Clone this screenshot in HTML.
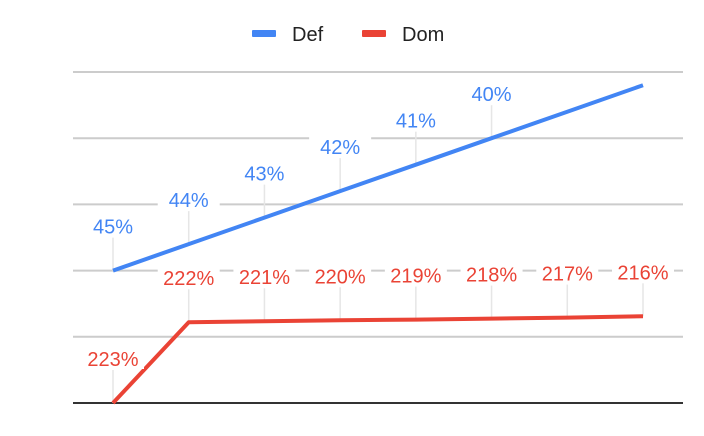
<!DOCTYPE html>
<html><head><meta charset="utf-8"><style>
html,body{margin:0;padding:0;background:#fff;}
svg{display:block;font-family:"Liberation Sans",Arial,sans-serif;}
</style></head><body>
<svg id="chart" width="704" height="436" viewBox="0 0 704 436">
<g id="legend">
<g><rect x="252" y="30" width="24" height="7" rx="1" fill="#4285f4"/><text x="292" y="41" font-size="20" fill="#222">Def</text></g>
<g><rect x="362" y="30" width="24" height="7" rx="1" fill="#ea4335"/><text x="402" y="41" font-size="20" fill="#222">Dom</text></g>
</g>
<g id="grid"></g>
<g id="leaders"></g>
<g id="series"></g>
<g id="labels"></g>
</svg>
<script>
const categories = [1,2,3,4,5,6,7,8];
const defValues = [2.0,2.4,2.8,3.2,3.6,4.0,4.4,4.8];
const domValues = [0,1.22,1.235,1.25,1.26,1.275,1.29,1.31];
const defLabels = ["45%","44%","43%","42%","41%","40%",null,null];
const domLabels = ["223%","222%","221%","220%","219%","218%","217%","216%"];
const gridTicks = [0,1,2,3,4,5];

const NS="http://www.w3.org/2000/svg";
const x0=113, x1=643, yBase=403, yStep=66.2;
function xs(i){return x0+(x1-x0)*i/(categories.length-1);}
function ys(v){return yBase-v*yStep;}
function mk(t,a,p){const e=document.createElementNS(NS,t);for(const k in a)e.setAttribute(k,a[k]);p.appendChild(e);return e;}
const grid=document.getElementById('grid'),lead=document.getElementById('leaders'),ser=document.getElementById('series'),lab=document.getElementById('labels');
gridTicks.forEach(t=>{
  const l=mk('line',{x1:73,x2:683,y1:ys(t),y2:ys(t),stroke:t===0?'#333':'#ccc','stroke-width':2},grid);
  
  
});
function series(vals,labels,color,name){
  labels.forEach((s,i)=>{
    if(!s)return;
    const y=ys(vals[i]);
    const ld=mk('line',{x1:xs(i),x2:xs(i),y1:y,y2:y-33,stroke:'#e6e6e6','stroke-width':1.5},lead);
    
    
    const bg=mk('rect',{x:xs(i)-31,y:y-56,width:62,height:22,fill:'#fff'},lab);
    
    
    const tx=mk('text',{x:xs(i),y:y-37,'text-anchor':'middle','font-size':20,fill:color},lab);
    tx.textContent=s;
    
    
  });
  const p=mk('polyline',{points:vals.map((v,i)=>xs(i)+','+ys(v)).join(' '),fill:'none',stroke:color,'stroke-width':4,'stroke-linejoin':'round'},ser);
  
  
}
series(defValues,defLabels,'#4285f4','def');
series(domValues,domLabels,'#ea4335','dom');
</script>
</body></html>
